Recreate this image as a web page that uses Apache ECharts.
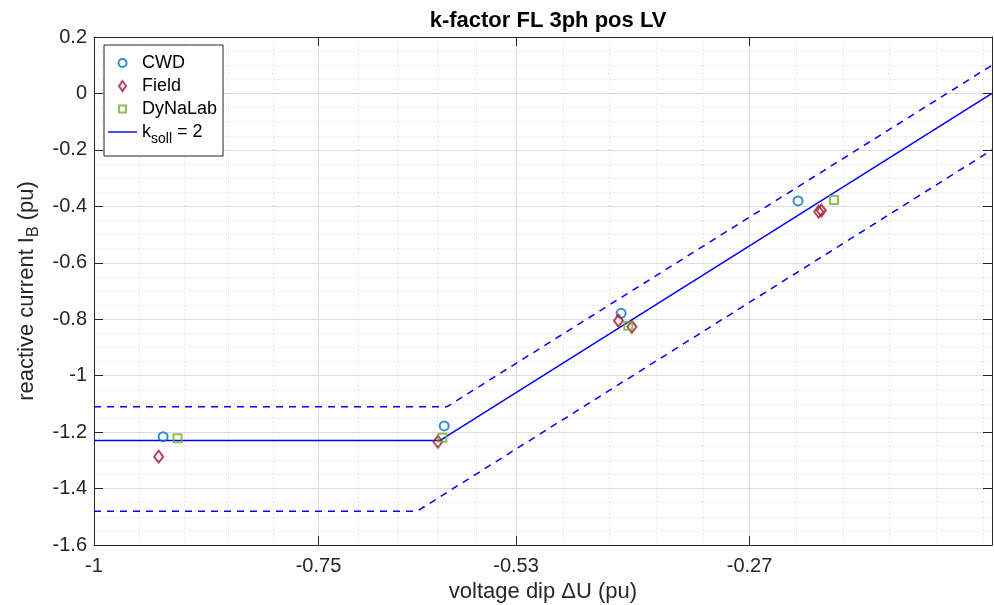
<!DOCTYPE html>
<html>
<head>
<meta charset="utf-8">
<script src="https://cdn.jsdelivr.net/npm/echarts@6/dist/echarts.min.js"></script>
<style>
html,body{margin:0;padding:0;background:#fff;}
#chart{width:994px;height:605px;}
</style>
</head>
<body>
<div id="chart"></div>
<script>
// ---- data ----
var xMajorTicks = [-1, -0.75, -0.53, -0.27];
var xMinorGrid = [-0.95, -0.9, -0.85, -0.8, -0.706, -0.662, -0.618, -0.574, -0.478, -0.426, -0.374, -0.322, -0.218, -0.166, -0.114, -0.062, -0.010];

var cwdX = [-0.923, -0.610, -0.413, -0.216];
var cwdY = [-1.216, -1.178, -0.779, -0.381];

var fieldX = [-0.928, -0.617, -0.416, -0.401, -0.193, -0.190];
var fieldY = [-1.287, -1.234, -0.805, -0.827, -0.419, -0.415];

var dynaX = [-0.907, -0.612, -0.405, -0.176];
var dynaY = [-1.222, -1.220, -0.823, -0.378];

var kSollX = [-1, -0.615, 0];
var kSollY = [-1.23, -1.23, 0];
var upperX = [-1, -0.607, 0];
var upperY = [-1.11, -1.11, 0.1];
var lowerX = [-1, -0.64, 0];
var lowerY = [-1.48, -1.48, -0.2];

function pairs(xs, ys) { return xs.map(function (x, i) { return [x, ys[i]]; }); }

var axisColor = '#262626';
var font = "'Liberation Sans', Arial, Helvetica, sans-serif";

var chart = echarts.init(document.getElementById('chart'));
var option = {
  animation: false,
  backgroundColor: '#fff',
  textStyle: { fontFamily: font },
  title: {
    text: 'k-factor FL 3ph pos LV',
    left: 543, top: 5, textAlign: 'center',
    textStyle: { fontFamily: font, fontWeight: 'bold', fontSize: 22, color: '#000' }
  },
  grid: { left: 94, right: 2, top: 37, bottom: 60, containLabel: false, outerBoundsMode: 'none' },
  legend: {
    orient: 'vertical', left: 104, top: 45,
    padding: [9, 6, 10, 4], itemGap: 5,
    itemWidth: 29, itemHeight: 11,
    borderColor: axisColor, borderWidth: 1, backgroundColor: '#fff',
    textStyle: {
      fontFamily: font, fontSize: 18, color: '#000',
      rich: {
        a: { fontFamily: font, fontSize: 18, color: '#000' },
        s: { fontFamily: font, fontSize: 14, color: '#000', verticalAlign: 'bottom', padding: [14, 0, 0, 0] }
      }
    },
    data: [
      { name: 'CWD', icon: 'path://M0,0M11,11M1.5,5.5A4,4,0,1,1,9.5,5.5A4,4,0,1,1,1.5,5.5Z' },
      { name: 'Field', icon: 'path://M0,0M11,11M5.5,0.5L9,5.5L5.5,10.5L2,5.5Z' },
      { name: 'DyNaLab', icon: 'path://M0,0M11,11M2,2H9V9H2Z' },
      { name: 'ksoll', icon: 'path://M0,0H29V1.4H0Z' }
    ],
    formatter: function (n) { return n === 'ksoll' ? '{a|k}{s|soll}{a| = 2}' : n; }
  },
  xAxis: [
    {
      type: 'value', position: 'bottom', min: -1, max: 0,
      axisLine: { show: true, onZero: false, lineStyle: { color: axisColor, width: 1 } },
      axisTick: { show: true, inside: true, length: 9, customValues: xMajorTicks, lineStyle: { color: axisColor } },
      axisLabel: { customValues: xMajorTicks, color: axisColor, fontSize: 20, margin: 11, fontFamily: font },
      splitLine: { show: true, lineStyle: { color: '#dedede', width: 1 } },
      name: 'voltage dip \u0394U (pu)', nameLocation: 'middle', nameGap: 34,
      nameTextStyle: { fontFamily: font, fontSize: 22, color: axisColor },
      z: 3
    },
    {
      type: 'value', position: 'bottom', min: -1, max: 0,
      axisLine: { show: false, onZero: false },
      axisTick: { show: false, customValues: xMinorGrid },
      axisLabel: { show: false, customValues: xMinorGrid },
      splitLine: { show: true, lineStyle: { color: '#d4d4d4', width: 1, type: [1, 3] } },
      z: 1
    },
    {
      type: 'value', position: 'top', min: -1, max: 0,
      axisLine: { show: true, onZero: false, lineStyle: { color: axisColor, width: 1 } },
      axisTick: { show: true, inside: true, length: 9, customValues: xMajorTicks, lineStyle: { color: axisColor } },
      axisLabel: { show: false, customValues: xMajorTicks },
      splitLine: { show: false },
      z: 3
    }
  ],
  yAxis: [
    {
      type: 'value', position: 'left', min: -1.6, max: 0.2, interval: 0.2,
      axisLine: { show: true, onZero: false, lineStyle: { color: axisColor, width: 1 } },
      axisTick: { show: true, inside: true, length: 9, lineStyle: { color: axisColor } },
      axisLabel: { color: axisColor, fontSize: 20, margin: 7, fontFamily: font },
      splitLine: { show: true, lineStyle: { color: '#dedede', width: 1 } },
      minorTick: { show: false, splitNumber: 4 },
      minorSplitLine: { show: true, lineStyle: { color: '#d4d4d4', width: 1, type: [1, 3] } },
      name: '{a|reactive current I}{b|B}{a| (pu)}', nameLocation: 'middle', nameGap: 48,
      nameTextStyle: {
        fontFamily: font, fontSize: 22, color: axisColor,
        rich: {
          a: { fontFamily: font, fontSize: 22, color: axisColor },
          b: { fontFamily: font, fontSize: 16, color: axisColor, verticalAlign: 'bottom', padding: [14, 0, 0, 0] }
        }
      },
      z: 3
    },
    {
      type: 'value', position: 'right', min: -1.6, max: 0.2, interval: 0.2,
      axisLine: { show: true, onZero: false, lineStyle: { color: axisColor, width: 1 } },
      axisTick: { show: true, inside: true, length: 9, lineStyle: { color: axisColor } },
      axisLabel: { show: false },
      splitLine: { show: false },
      z: 3
    }
  ],
  series: [
    {
      name: 'ksoll', type: 'line', data: pairs(kSollX, kSollY),
      showSymbol: false, symbol: 'none',
      lineStyle: { color: '#0000ff', width: 1.5 }, itemStyle: { color: '#0000ff' }, z: 4
    },
    {
      name: 'upper', type: 'line', data: pairs(upperX, upperY),
      showSymbol: false, symbol: 'none',
      lineStyle: { color: '#0000ff', width: 1.5, type: [7, 6] }, z: 4
    },
    {
      name: 'lower', type: 'line', data: pairs(lowerX, lowerY),
      showSymbol: false, symbol: 'none',
      lineStyle: { color: '#0000ff', width: 1.5, type: [7, 6] }, z: 4
    },
    {
      name: 'CWD', type: 'scatter', data: pairs(cwdX, cwdY),
      symbol: 'circle', symbolSize: 9,
      itemStyle: { color: 'rgba(255,255,255,0)', borderColor: '#0072BD', borderWidth: 2 }, z: 5
    },
    {
      name: 'Field', type: 'scatter', data: pairs(fieldX, fieldY),
      symbol: 'diamond', symbolSize: [9, 12],
      itemStyle: { color: 'rgba(255,255,255,0)', borderColor: '#A2142F', borderWidth: 2 }, z: 5
    },
    {
      name: 'DyNaLab', type: 'scatter', data: pairs(dynaX, dynaY),
      symbol: 'rect', symbolSize: 8,
      itemStyle: { color: 'rgba(255,255,255,0)', borderColor: '#77AC30', borderWidth: 2 }, z: 5
    }
  ]
};
chart.setOption(option);
</script>
</body>
</html>
